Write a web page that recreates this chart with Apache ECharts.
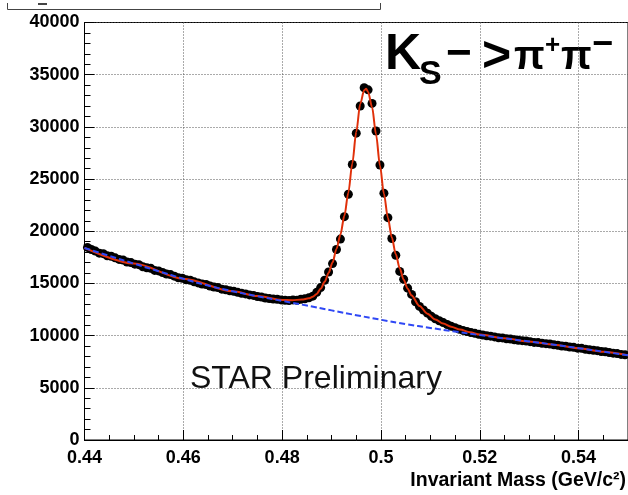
<!DOCTYPE html>
<html><head><meta charset="utf-8">
<script src="https://cdn.jsdelivr.net/npm/echarts@6/dist/echarts.min.js"></script>
<style>html,body{margin:0;padding:0;background:#fff}#c{width:628px;height:495px}</style>
</head><body><div id="c"></div>
<script>
// Histogram: bin low edge and width (GeV/c^2)
const binLow = 0.4402;
const binWidth = 0.0008;
// Counts per bin
const counts = [
18450,18250,18100,17900,17850,17650,17600,17450,17300,17250,
17050,17000,16850,16800,16600,16500,16450,16250,16200,16050,
15900,15850,15700,15550,15500,15350,15300,15150,15050,14950,
14900,14750,14650,14600,14450,14400,14300,14250,14150,14050,
14000,13900,13850,13750,13700,13600,13550,13500,13480,13420,
13380,13360,13420,13380,13480,13530,13620,13780,14150,14600,
15300,16100,16900,18250,19250,21400,23550,26400,29400,32000,
33750,33550,32250,29600,26350,23650,21300,19300,17700,16150,
15400,14550,13950,13250,12800,12450,12150,11850,11620,11420,
11250,11070,10900,10760,10620,10500,10400,10300,10220,10130,
10060,9990,9950,9880,9800,9780,9700,9680,9600,9560,
9520,9480,9420,9350,9330,9260,9230,9200,9120,9080,
9000,8980,8900,8880,8800,8780,8700,8650,8600,8560,
8480,8450,8380,8320,8280,8200,8160
];
// Total fit (signal + background), red
const fitX = [0.4400,0.4500,0.4600,0.4700,0.4750,0.4800,0.4820,0.4840,0.4854,0.4862,0.4870,0.4878,0.4886,0.4894,0.4902,0.4910,0.4918,0.4926,0.4934,0.4942,0.4950,0.4958,0.4966,0.4970,0.4974,0.4982,0.4990,0.4998,0.5006,0.5014,0.5022,0.5030,0.5038,0.5046,0.5054,0.5062,0.5078,0.5094,0.5110,0.5126,0.5142,0.5160,0.5180,0.5200,0.5250,0.5300,0.5350,0.5400,0.5450,0.5500];
const fitY = [18400,16900,15450,14250,13790,13420,13400,13450,13580,13720,14000,14500,15150,16000,17000,18300,19700,21500,23700,26500,29500,32200,33500,33650,33350,31900,29300,26300,23600,21300,19400,17800,16450,15350,14500,13850,12850,12100,11550,11150,10850,10580,10320,10100,9740,9440,9130,8800,8460,8120];
// Background fit, blue dashed
const bgX = [0.440,0.445,0.450,0.455,0.460,0.465,0.470,0.475,0.480,0.485,0.490,0.495,0.500,0.505,0.510,0.515,0.520,0.525,0.530,0.535,0.540,0.545,0.550];
const bgY = [18400,17640,16900,16170,15450,14800,14250,13770,13330,12880,12420,11960,11520,11110,10740,10390,10050,9740,9440,9130,8800,8460,8120];
// Axis
const xTicks = [0.44,0.46,0.48,0.50,0.52,0.54];
const yTicks = [0,5000,10000,15000,20000,25000,30000,35000,40000];

const FF = '"Liberation Sans", Arial, Helvetica, sans-serif';
const histData = counts.map((c,i)=>[binLow + binWidth*(i+0.5), c]);
const fitData = fitX.map((x,i)=>[x, fitY[i]]);
const bgData = bgX.map((x,i)=>[x, bgY[i]]);

const chart = echarts.init(document.getElementById('c'), null, {renderer:'canvas'});
const gridStyle = {color:'#555', width:1, type:[1,2]};
chart.setOption({
  animation:false,
  grid:{left:84.5, top:22.5, right:-0.5, bottom:55, show:true, borderColor:'#000', borderWidth:1, containLabel:false},
  xAxis:{
    type:'value', min:xTicks[0], max:0.55, interval:0.02,
    axisLine:{show:true, onZero:false, lineStyle:{color:'#000', width:1}},
    axisTick:{show:true, inside:true, length:10, lineStyle:{color:'#000'}},
    minorTick:{show:true, splitNumber:4, length:5, lineStyle:{color:'#000'}},
    axisLabel:{show:true, color:'#000', fontSize:18, fontWeight:'bold', fontFamily:FF, margin:9, showMaxLabel:false,
      formatter:v=>String(+(+v).toFixed(2))},
    splitLine:{show:true, lineStyle:gridStyle}
  },
  yAxis:{
    type:'value', min:yTicks[0], max:yTicks[yTicks.length-1], interval:5000,
    axisLine:{show:true, onZero:false, lineStyle:{color:'#000', width:1}},
    axisTick:{show:true, inside:true, length:10, lineStyle:{color:'#000'}},
    minorTick:{show:true, splitNumber:5, length:6, lineStyle:{color:'#000'}},
    axisLabel:{show:true, color:'#000', fontSize:18, fontWeight:'bold', fontFamily:FF, margin:5,
      formatter:v=>String(Math.round(v))},
    splitLine:{show:true, lineStyle:gridStyle}
  },
  series:[
    {type:'scatter', data:histData, symbol:'circle', symbolSize:9, itemStyle:{color:'#000', opacity:1}, z:2, silent:true},
    {type:'line', data:fitData, smooth:0.3, smoothMonotone:'x', showSymbol:false, lineStyle:{color:'#e0300a', width:2}, z:3, silent:true},
    {type:'line', data:bgData, smooth:true, showSymbol:false, lineStyle:{color:'#2f48f5', width:2, type:[6,3]}, z:4, silent:true}
  ],
  graphic:[
    {type:'polyline', shape:{points:[[7.5,3],[7.5,9.5],[380.5,9.5],[380.5,3]]}, style:{stroke:'#444', lineWidth:1, fill:null}, silent:true},
    {type:'rect', shape:{x:38,y:3,width:9,height:2}, style:{fill:'#444'}, silent:true},
    {type:'text', style:{text:'K', x:385, y:55, font:'bold 50px '+FF, fill:'#000', textVerticalAlign:'middle'}},
    {type:'text', style:{text:'S', x:419, y:75, font:'bold 34px '+FF, fill:'#000', textVerticalAlign:'middle'}},
    {type:'text', style:{text:'\u2212', x:446, y:55, font:'bold 44px '+FF, fill:'#000', textVerticalAlign:'middle'}},
    {type:'text', style:{text:'>', x:482, y:57, font:'bold 50px '+FF, fill:'#000', textVerticalAlign:'middle'}},
    {type:'text', style:{text:'\u03c0', x:514, y:58, font:'bold 40px '+FF, fill:'#000', textVerticalAlign:'middle'}},
    {type:'text', style:{text:'+', x:545, y:46, font:'bold 26px '+FF, fill:'#000', textVerticalAlign:'middle'}},
    {type:'text', style:{text:'\u03c0', x:561, y:58, font:'bold 40px '+FF, fill:'#000', textVerticalAlign:'middle'}},
    {type:'text', style:{text:'\u2212', x:592, y:45, font:'bold 36px '+FF, fill:'#000', textVerticalAlign:'middle'}},
    {type:'text', style:{text:'STAR Preliminary', x:190, y:379, font:'32px '+FF, fill:'#111', textVerticalAlign:'middle'}},
    {type:'text', style:{text:'Invariant Mass (GeV/c\u00b2)', x:626, y:481, font:'bold 19.5px '+FF, fill:'#000', textAlign:'right', textVerticalAlign:'middle'}}
  ]
});
</script></body></html>
